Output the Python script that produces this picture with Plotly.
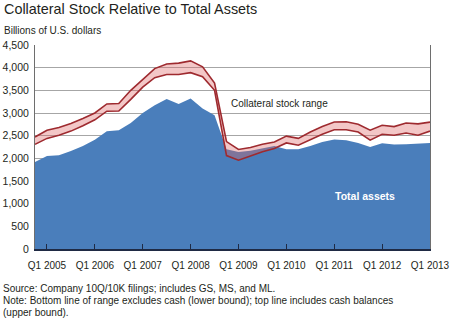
import plotly.graph_objects as go

# Quarterly observations, Q4 2004 through Q1 2013 (billions of U.S. dollars)
quarters = ["Q4 2004"] + [f"Q{q} {y}" for y in range(2005, 2013) for q in range(1, 5)] + ["Q1 2013"]

total_assets = [
    1920, 2050, 2070, 2160, 2270, 2410, 2600, 2620, 2780, 3000,
    3170, 3310, 3200, 3320, 3100, 2950, 2200, 2140, 2165, 2220,
    2270, 2200, 2200, 2270, 2360, 2415, 2400, 2340, 2250, 2330,
    2305, 2310, 2325, 2340,
]

# Collateral stock range: lower bound excludes cash, upper bound includes cash
collateral_lower = [
    2310, 2440, 2510, 2600, 2720, 2850, 3040, 3045, 3300, 3570,
    3780, 3850, 3850, 3890, 3800, 3500, 2060, 1960, 2050, 2145,
    2215, 2340, 2290, 2415, 2530, 2630, 2630, 2580, 2400, 2530,
    2510, 2560, 2510, 2600,
]
collateral_upper = [
    2470, 2620, 2680, 2770, 2880, 3000, 3200, 3210, 3500, 3750,
    3980, 4080, 4100, 4150, 4020, 3660, 2370, 2195, 2240, 2310,
    2360, 2490, 2440, 2580, 2700, 2800, 2805, 2750, 2620, 2730,
    2700, 2780, 2760, 2800,
]

tick_quarters = [f"Q1 {y}" for y in range(2005, 2014)]
y_ticks = list(range(0, 4501, 500))

BLUE = "#4A7EBB"
RED = "#9E2A2F"
BAND = "rgba(222,100,100,0.36)"
TXT = "#231F20"
FONT = "Liberation Sans, Arial, sans-serif"

W, H = 450, 321
L, R, T, B = 35, 20, 45, 72
PW, PH = W - L - R, H - T - B


def px(x):
    return (x - L) / PW


def py(y):
    return (H - B - y) / PH


fig = go.Figure()
fig.add_trace(go.Scatter(
    x=quarters, y=total_assets, mode="lines", fill="tozeroy",
    line=dict(width=0, color=BLUE), fillcolor=BLUE, hoverinfo="skip",
))
fig.add_trace(go.Scatter(
    x=quarters, y=collateral_lower, mode="lines",
    line=dict(width=1.6, color=RED), hoverinfo="skip",
))
fig.add_trace(go.Scatter(
    x=quarters, y=collateral_upper, mode="lines", fill="tonexty",
    fillcolor=BAND, line=dict(width=1.6, color=RED), hoverinfo="skip",
))

annotations = [
    dict(text="Collateral Stock Relative to Total Assets", x=px(2), y=py(9),
         font=dict(size=14.4, color=TXT)),
    dict(text="Billions of U.S. dollars", x=px(2), y=py(30),
         font=dict(size=10, color=TXT)),
    dict(text="Collateral stock range", x=px(229), y=py(103),
         font=dict(size=10, color=TXT)),
    dict(text="<b>Total assets</b>", x=px(365), y=py(196), xanchor="center",
         font=dict(size=10.5, color="white")),
    dict(text="Source: Company 10Q/10K filings; includes GS, MS, and ML.",
         x=px(1), y=py(288), font=dict(size=10, color=TXT)),
    dict(text="Note: Bottom line of range excludes cash (lower bound); top line includes cash balances",
         x=px(1), y=py(300.5), font=dict(size=10, color=TXT)),
    dict(text="(upper bound).", x=px(1), y=py(312.5), font=dict(size=10, color=TXT)),
]
for a in annotations:
    a.setdefault("xanchor", "left")
    a.update(xref="paper", yref="paper", yanchor="middle", showarrow=False)

fig.update_layout(
    width=W, height=H,
    margin=dict(l=L, r=R, t=T, b=B, pad=0, autoexpand=False),
    paper_bgcolor="white", plot_bgcolor="white",
    showlegend=False,
    font=dict(family=FONT, color=TXT, size=10),
    annotations=annotations,
)
fig.update_xaxes(
    type="category", categoryorder="array", categoryarray=quarters,
    range=[0, len(quarters) - 1],
    tickmode="array", tickvals=tick_quarters, ticktext=tick_quarters,
    ticks="inside", ticklen=5, tickwidth=1, tickcolor="#1F2A44",
    showline=True, linecolor="#1F2A44", linewidth=2,
    showgrid=False, zeroline=False, ticklabelstandoff=6, automargin=False,
    tickfont=dict(size=10, color=TXT),
)
fig.update_yaxes(
    range=[0, 4500], tickmode="array", tickvals=y_ticks,
    ticktext=[f"{v:,}" for v in y_ticks],
    ticks="", showgrid=True, gridcolor="#A6A6A6", gridwidth=1,
    showline=True, linecolor="#6E6E6E", linewidth=1, mirror=True,
    zeroline=False, ticklabelstandoff=3, automargin=False,
    tickfont=dict(size=10.5, color=TXT),
)

fig.write_html("out.html")
